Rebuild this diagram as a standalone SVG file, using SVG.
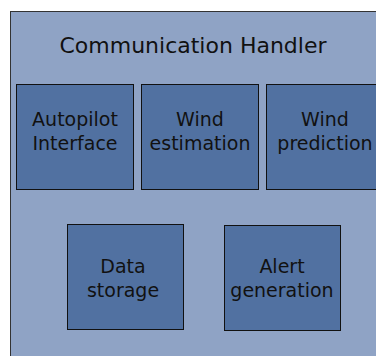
<svg xmlns="http://www.w3.org/2000/svg" width="376" height="356" viewBox="0 0 376 356">
<style>
.box{fill:#5171a1;stroke:#111;stroke-width:1}
text{font-family:"DejaVu Sans",sans-serif;font-size:19px;fill:#111;text-anchor:middle}
.title{font-size:22px}
</style>
<g id="communication-handler">
<rect x="10.5" y="11.5" width="380" height="360" fill="#8fa3c5" stroke="#333" stroke-width="1"/>
<text class="title" x="193" y="53">Communication Handler</text>
</g>
<g id="autopilot-interface">
<rect class="box" x="16.5" y="84.5" width="117" height="105"/>
<text x="75" y="126">Autopilot</text>
<text x="75" y="150">Interface</text>
</g>
<g id="wind-estimation">
<rect class="box" x="141.5" y="84.5" width="117" height="105"/>
<text x="200" y="126">Wind</text>
<text x="200" y="150">estimation</text>
</g>
<g id="wind-prediction">
<rect class="box" x="266.5" y="84.5" width="117" height="105"/>
<text x="325" y="126">Wind</text>
<text x="325" y="150">prediction</text>
</g>
<g id="data-storage">
<rect class="box" x="67.5" y="224.5" width="116" height="105"/>
<text x="123" y="273">Data</text>
<text x="123" y="297">storage</text>
</g>
<g id="alert-generation">
<rect class="box" x="224.5" y="225.5" width="116" height="105"/>
<text x="282" y="273">Alert</text>
<text x="282" y="297">generation</text>
</g>
<g id="connectors"></g>
</svg>
